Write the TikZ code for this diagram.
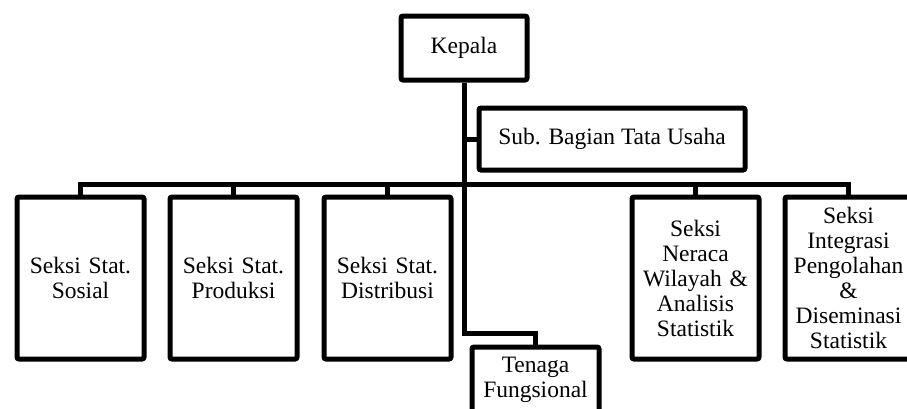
\documentclass[tikz,border=0pt]{standalone}
\usepackage{fontspec}
\setmainfont{Liberation Serif}
\begin{document}
\begin{tikzpicture}[x=1pt,y=-1pt,
  orgbox/.style={draw=black, line width=5pt, rounded corners=2pt, fill=white,
    align=center, inner sep=2pt, font=\fontsize{23.5}{25}\selectfont},
  link/.style={draw=black, line width=5pt}]
\useasboundingbox (0,0) rectangle (907,408);
\clip (0,0) rectangle (907,408);
% nodes
\node[orgbox, minimum width=126pt, minimum height=64pt] (kep) at (464,48) {Kepala};
\node[orgbox, minimum width=266pt, minimum height=62pt] (sub) at (612,139) {Sub. Bagian Tata Usaha};
\node[orgbox, minimum width=127pt, minimum height=162pt, text width=120pt] (b1) at (80.5,278) {Seksi Stat.\\Sosial};
\node[orgbox, minimum width=127pt, minimum height=162pt, text width=120pt] (b2) at (233.5,278) {Seksi Stat.\\Produksi};
\node[orgbox, minimum width=127pt, minimum height=162pt, text width=120pt] (b3) at (387.5,278) {Seksi Stat.\\Distribusi};
\node[orgbox, minimum width=127pt, minimum height=162pt, text width=120pt] (b4) at (695.5,278) {Seksi\\Neraca\\Wilayah \&\\Analisis\\Statistik};
\node[orgbox, minimum width=127pt, minimum height=162pt, text width=120pt] (b5) at (848.5,278) {Seksi\\Integrasi\\Pengolahan\\\&\\Diseminasi\\Statistik};
\node[orgbox, anchor=north, minimum width=127pt, text width=120pt, inner ysep=10pt] (ten) at (535.5,344.5) {Tenaga\\Fungsional\rule[-60pt]{0pt}{0pt}};
% connectors
\draw[link] (kep.south) -- (kep.south |- 0,333) -| (ten.north);
\draw[link] (sub.west) -- (sub.west -| kep.south);
\draw[link] (b1.north) -- (b1.north |- 0,184) -- (b5.north |- 0,184) -- (b5.north);
\draw[link] (b2.north) -- (b2.north |- 0,184);
\draw[link] (b3.north) -- (b3.north |- 0,184);
\draw[link] (b4.north) -- (b4.north |- 0,184);
\end{tikzpicture}
\end{document}
